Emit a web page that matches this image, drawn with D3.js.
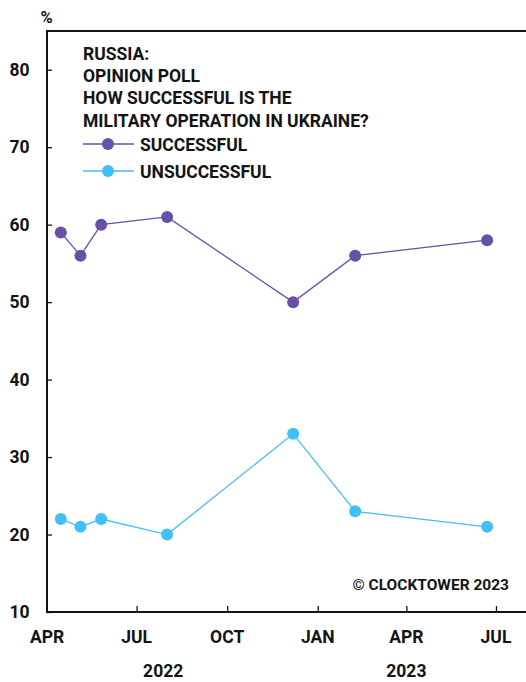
<!DOCTYPE html>
<html>
<head>
<meta charset="utf-8">
<script src="https://cdn.jsdelivr.net/npm/d3@7"></script>
<style>
  html, body { margin: 0; padding: 0; background: #fff; }
  svg { display: block; font-family: Roboto, "Liberation Sans", sans-serif; font-weight: 700; }
</style>
</head>
<body>
<svg id="chart" width="526" height="682"></svg>
<script>
// Poll dates (fieldwork) and shares, in percent
const pollDates = ["2022-04-15", "2022-05-05", "2022-05-26", "2022-08-01", "2022-12-07", "2023-02-08", "2023-06-22"];
const successful = [59, 56, 60, 61, 50, 56, 58];
const unsuccessful = [22, 21, 22, 20, 33, 23, 21];

const seriesNames = ["SUCCESSFUL", "UNSUCCESSFUL"];
const seriesColors = ["#6651a6", "#42bff4"];

const titleLines = ["RUSSIA:", "OPINION POLL", "HOW SUCCESSFUL IS THE", "MILITARY OPERATION IN UKRAINE?"];
const yTicks = [10, 20, 30, 40, 50, 60, 70, 80];
const xTickDates = ["2022-04-01", "2022-07-01", "2022-10-01", "2023-01-01", "2023-04-01", "2023-07-01"];
const xTickLabels = ["APR", "JUL", "OCT", "JAN", "APR", "JUL"];
const yearLabels = ["2022", "2023"];
const yearDates = ["2022-07-28", "2023-04-01"];

const parse = d3.utcParse("%Y-%m-%d");
const svg = d3.select("#chart");
const ink = "#141414";

const plotLeft = 47, plotRight = 526.5, plotTop = 31, plotBottom = 612;

const x = d3.scaleUtc()
  .domain([parse("2022-04-01"), parse("2023-08-01")])
  .range([plotLeft, plotRight]);
const y = d3.scaleLinear().domain([10, 85]).range([plotBottom, plotTop]);

// Y axis: ticks point inward
const yAxis = svg.append("g")
  .attr("transform", `translate(${plotLeft},0)`)
  .call(d3.axisRight(y).tickValues(yTicks).tickSize(5).tickFormat(""));
yAxis.select(".domain").remove();
yAxis.selectAll(".tick line").attr("stroke", ink).attr("stroke-width", 1.3);

svg.append("g").selectAll("text")
  .data(yTicks).join("text")
  .attr("x", 29.5).attr("y", d => y(d) + 6)
  .attr("text-anchor", "end")
  .attr("font-size", 17.5).attr("fill", ink)
  .text(d => d);

// X axis: ticks point upward
const xAxis = svg.append("g")
  .attr("transform", `translate(0,${plotBottom})`)
  .call(d3.axisTop(x).tickValues(xTickDates.map(parse).slice(1)).tickSize(6).tickFormat(""));
xAxis.select(".domain").remove();
xAxis.selectAll(".tick line").attr("stroke", ink).attr("stroke-width", 1.3);

svg.append("g").selectAll("text")
  .data(xTickDates).join("text")
  .attr("x", (d) => x(parse(d)))
  .attr("y", 643)
  .attr("text-anchor", "middle")
  .attr("font-size", 17.5).attr("fill", ink)
  .text((d, i) => xTickLabels[i]);

svg.append("g").selectAll("text")
  .data(yearDates).join("text")
  .attr("x", d => x(parse(d)))
  .attr("y", 677)
  .attr("text-anchor", "middle")
  .attr("font-size", 17.5).attr("fill", ink)
  .text((d, i) => yearLabels[i]);

// Frame: top, left and bottom rules
svg.append("path")
  .attr("d", `M${plotRight},${plotTop}H${plotLeft}V${plotBottom}H${plotRight}`)
  .attr("fill", "none").attr("stroke", ink).attr("stroke-width", 2);

svg.append("text").attr("x", 46.5).attr("y", 23)
  .attr("text-anchor", "middle").attr("font-size", 16.5).attr("fill", ink).text("%");

// Series
const line = d3.line().x(d => x(d.date)).y(d => y(d.value));
[successful, unsuccessful].forEach((vals, i) => {
  const pts = pollDates.map((d, j) => ({ date: parse(d), value: vals[j] }));
  svg.append("path").datum(pts)
    .attr("d", line).attr("fill", "none")
    .attr("stroke", seriesColors[i]).attr("stroke-width", 1.3);
  svg.append("g").selectAll("circle").data(pts).join("circle")
    .attr("cx", d => x(d.date)).attr("cy", d => y(d.value))
    .attr("r", 6).attr("fill", seriesColors[i]);
});

// Title block
svg.append("g").selectAll("text").data(titleLines).join("text")
  .attr("x", 83).attr("y", (d, i) => 60 + i * 22.2)
  .attr("font-size", 17.5).attr("fill", ink)
  .text(d => d);

// Legend
const legend = svg.append("g").selectAll("g").data(seriesNames).join("g")
  .attr("transform", (d, i) => `translate(83,${144 + i * 27})`);
legend.append("line").attr("x1", 0).attr("x2", 51).attr("y1", 0).attr("y2", 0)
  .attr("stroke", (d, i) => seriesColors[i]).attr("stroke-width", 1.3);
legend.append("circle").attr("cx", 25).attr("cy", 0).attr("r", 6)
  .attr("fill", (d, i) => seriesColors[i]);
legend.append("text").attr("x", 57).attr("y", 6.5)
  .attr("font-size", 17.5).attr("fill", ink).text(d => d);

// Source
svg.append("text").attr("x", 509).attr("y", 590)
  .attr("text-anchor", "end").attr("font-size", 15.5).attr("fill", ink)
  .text("© CLOCKTOWER 2023");
</script>
</body>
</html>
